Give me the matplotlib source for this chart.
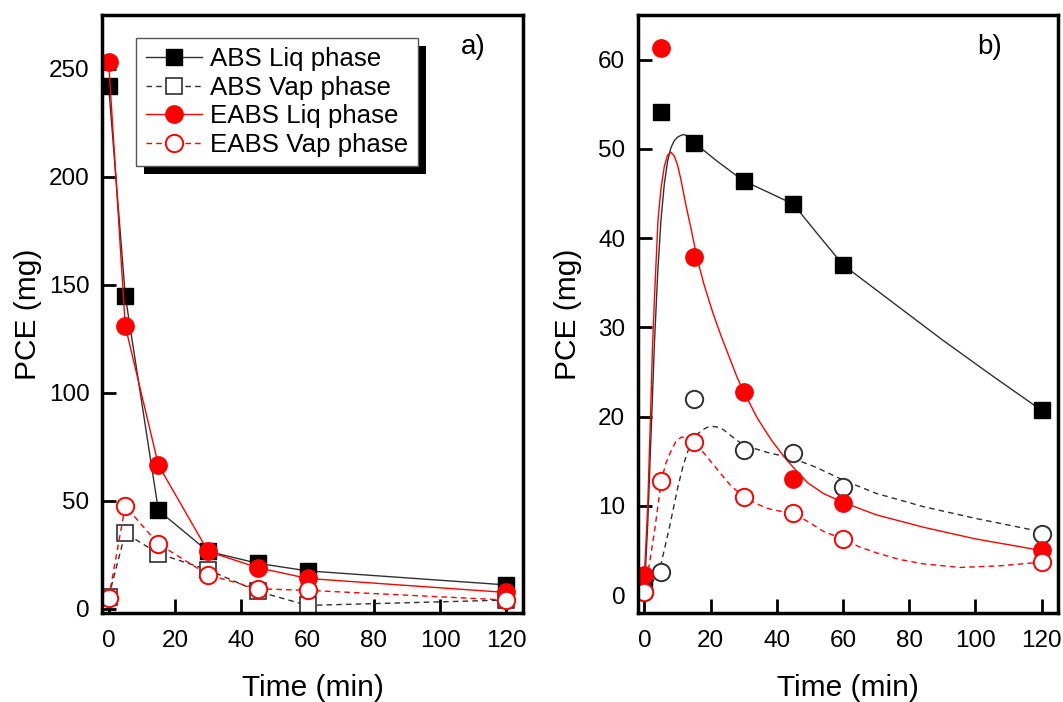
import numpy as np
import matplotlib.pyplot as plt
from matplotlib.patches import Rectangle
from matplotlib.transforms import IdentityTransform

plt.rcParams['font.family'] = ['Liberation Sans', 'DejaVu Sans']

time = [0, 5, 15, 30, 45, 60, 120]

# panel a) values (mg)
abs_liq_a = [242, 145, 45.5, 26.5, 21, 17.5, 11]
abs_vap_a = [5.5, 35, 25.5, 18, 8, 1.5, 4]
eabs_liq_a = [253, 131, 66.5, 26.5, 19, 14, 7.5]
eabs_vap_a = [5, 47.5, 30, 15.7, 9.2, 8.5, 4]

# panel b) values (mg)
abs_liq_b = [1.5, 54.1, 50.7, 46.4, 43.8, 37.0, 20.7]
abs_vap_b = [0.3, 2.6, 22.0, 16.3, 15.9, 12.1, 6.9]
eabs_liq_b = [2.2, 61.3, 37.9, 22.8, 13.0, 10.3, 5.0]
eabs_vap_b = [0.4, 12.8, 17.1, 11.0, 9.2, 6.3, 3.7]

# fitted curves in panel b)
fit_abs_liq_t = [0, 1, 2, 3, 4, 5, 6, 7, 8, 9, 10, 11, 12, 13.5, 15, 22, 30, 37, 45, 52, 60, 75, 90, 105, 120]
fit_abs_liq = [0.5, 8, 18, 28, 36, 42, 46, 48.6, 50.1, 50.9, 51.3, 51.5, 51.6, 51.3, 50.7, 48.6, 46.4, 45.2, 43.8, 40.6, 37.0, 32.8, 28.6, 24.6, 20.7]
fit_eabs_liq_t = [0, 1, 2, 2.4, 3, 4.1, 5, 6, 7, 8.1, 9, 10, 11, 12.65, 14, 16, 18, 20.7, 23, 25.7, 28, 30, 34, 38.3, 42.2, 45,
                  49.3, 54, 60, 70, 84.4, 100, 120]
fit_eabs_liq = [2.2, 10, 22, 27.4, 33, 42, 45.5, 48, 49.3, 49.6, 49.2, 48.2, 46.6, 43.5, 41.2, 37.6, 34.8, 31.6, 29.2, 26.6, 24.4, 22.8, 19.9, 17.4, 15.5, 14.3,
                12.6, 11.4, 10.4, 9.0, 7.6, 6.3, 5.0]
fit_abs_vap_t = [0, 2.5, 5.1, 7.5, 10.1, 11.7, 13.2, 15, 16.2, 17.5, 19, 20.7, 22.5, 24, 27, 30, 37, 45, 52, 60, 70, 84.4, 100, 120]
fit_abs_vap = [0.5, 1.5, 3.6, 7.5, 12.1, 14.5, 16.2, 17.4, 18.1, 18.5, 18.8, 18.9, 18.8, 18.5, 17.6, 16.8, 16.0, 15.3, 14.3, 12.9, 11.4, 9.9, 8.6, 7.1]
fit_eabs_vap_t = [0, 1.5, 3.1, 5.1, 6.5, 8.1, 9.5, 11.1, 13, 15, 18, 22.2, 26, 30, 33.5, 37.3, 41, 45, 50, 54.3, 60, 65,
                  70.4, 77, 84.4, 95.5, 108, 120]
fit_eabs_vap = [0.7, 3.5, 7.3, 12.8, 14.8, 16.2, 17.2, 17.7, 17.6, 17.1, 15.9, 14.0, 12.3, 11.0, 10.3, 9.7, 9.4, 9.2, 8.1, 7.1, 6.3, 5.4,
                4.7, 4.0, 3.5, 3.1, 3.3, 3.7]

labels = ['ABS Liq phase', 'ABS Vap phase', 'EABS Liq phase', 'EABS Vap phase']

blk = '#303030'
red = '#ff0000'
dsh = (4, 3)

fig = plt.figure(figsize=(10.63, 7.02), dpi=100)
ax1 = fig.add_axes([0.096, 0.1268, 0.396, 0.852])
ax2 = fig.add_axes([0.600, 0.1268, 0.3954, 0.852])

# panel a
ax1.plot(time, abs_liq_a, '-', color=blk, lw=1, marker='s', ms=11.5, mfc='black', mec='black', label=labels[0])
ax1.plot(time, abs_vap_a, '--', color=blk, lw=1, dashes=dsh, marker='s', ms=11.5, mfc='white', mec=blk, mew=1.2, label=labels[1])
ax1.plot(time, eabs_liq_a, '-', color=red, lw=1, marker='o', ms=12.5, mfc=red, mec=red, label=labels[2])
ax1.plot(time, eabs_vap_a, '--', color=red, lw=1, dashes=dsh, marker='o', ms=12.5, mfc='white', mec=red, mew=1.4, label=labels[3])

# panel b
ax2.plot(fit_abs_liq_t, fit_abs_liq, '-', color=blk, lw=1)
ax2.plot(fit_abs_vap_t, fit_abs_vap, '--', color=blk, lw=1, dashes=dsh)
ax2.plot(fit_eabs_liq_t, fit_eabs_liq, '-', color=red, lw=1)
ax2.plot(fit_eabs_vap_t, fit_eabs_vap, '--', color=red, lw=1, dashes=dsh)
ax2.plot(time, abs_liq_b, 's', ms=11.5, mfc='black', mec='black')
ax2.plot(time, abs_vap_b, 'o', ms=12.5, mfc='white', mec=blk, mew=1.4)
ax2.plot(time, eabs_liq_b, 'o', ms=12.5, mfc=red, mec=red)
ax2.plot(time, eabs_vap_b, 'o', ms=12.5, mfc='white', mec=red, mew=1.4)

ax1.set_xlim(-2, 125)
ax1.set_ylim(-2, 275)
ax1.set_yticks([0, 50, 100, 150, 200, 250])
ax2.set_xlim(-2, 125)
ax2.set_ylim(-2, 65)
ax2.set_yticks([0, 10, 20, 30, 40, 50, 60])

for ax in (ax1, ax2):
    ax.set_xticks([0, 20, 40, 60, 80, 100, 120])
    for s in ax.spines.values():
        s.set_linewidth(2.5)
    ax.tick_params(direction='in', length=10, width=2, labelsize=17.5)
    ax.tick_params(axis='x', pad=12)
    ax.tick_params(axis='y', pad=9)
    ax.set_xlabel('Time (min)', fontsize=21.5, labelpad=16)

ax1.set_ylabel('PCE (mg)', fontsize=21.5, labelpad=5)
ax2.set_ylabel('PCE (mg)', fontsize=21.5, labelpad=11.5)

ax1.text(0.852, 0.946, 'a)', transform=ax1.transAxes, fontsize=20, va='center', ha='left')
ax2.text(0.807, 0.946, 'b)', transform=ax2.transAxes, fontsize=20, va='center', ha='left')

leg = ax1.legend(loc='upper left', bbox_to_anchor=(0.08, 0.962), fontsize=18.6,
                 frameon=True, fancybox=False, handlelength=2.2, handletextpad=0.3,
                 borderpad=0.38, labelspacing=0.17, borderaxespad=0)
leg.get_frame().set_edgecolor('#555555')
leg.get_frame().set_linewidth(1)
leg.get_frame().set_alpha(1)

# black drop shadow behind the legend
fig.canvas.draw()
bb = leg.get_window_extent()
shadow = Rectangle((bb.x0 + 8, bb.y0 - 8), bb.width, bb.height, transform=IdentityTransform(),
                   facecolor='black', edgecolor='none', zorder=4.5)
ax1.add_artist(shadow)

plt.savefig('out.png', dpi=100)
